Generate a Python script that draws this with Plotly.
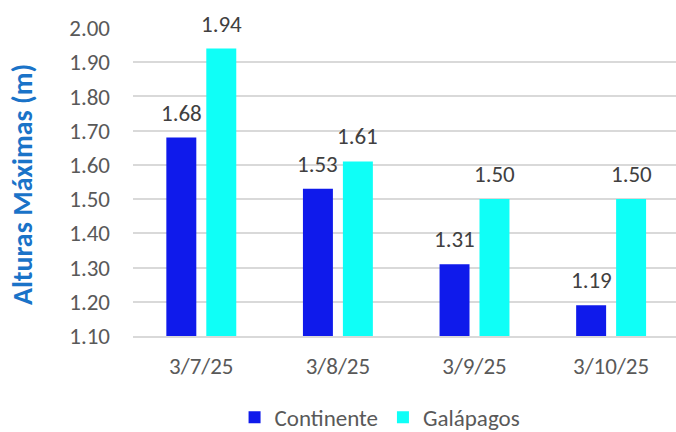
import plotly.graph_objects as go

categories = ["3/7/25", "3/8/25", "3/9/25", "3/10/25"]
continente = [1.68, 1.53, 1.31, 1.19]
galapagos = [1.94, 1.61, 1.50, 1.50]
y_ticks = [1.10, 1.20, 1.30, 1.40, 1.50, 1.60, 1.70, 1.80, 1.90, 2.00]

FONT = "Calibri, Carlito, Lato, sans-serif"
BLUE = "#0F1AEB"
CYAN = "#0FFFF7"
FS = 23

fig = go.Figure()
fig.add_trace(go.Bar(name="Continente", x=categories, y=continente,
                     marker=dict(color=BLUE, line=dict(width=0))))
fig.add_trace(go.Bar(name="Galápagos", x=categories, y=galapagos,
                     marker=dict(color=CYAN, line=dict(width=0))))

# data labels above each bar
for vals, shift in ((continente, -20), (galapagos, 20)):
    for c, v in zip(categories, vals):
        fig.add_annotation(x=c, y=v, xref="x", yref="y", text=f"{v:.2f}",
                           showarrow=False, xshift=shift, yshift=25,
                           yanchor="middle",
                           font=dict(family=FONT, size=FS, color="#404040"))

# y-axis title
fig.add_annotation(text="<b>Alturas Máximas (m)</b>", xref="paper", yref="paper",
                   x=-111 / 543, y=0.49, xanchor="center", yanchor="middle",
                   textangle=-90, showarrow=False,
                   font=dict(family=FONT, size=28, color="#1A73C8"))

fig.update_layout(
    width=676, height=432,
    margin=dict(l=133, r=0, t=28, b=96),
    paper_bgcolor="white", plot_bgcolor="white",
    barmode="group", bargap=0.415, bargroupgap=0.25,
    font=dict(family=FONT, size=FS, color="#595959"),
    showlegend=True,
    legend=dict(orientation="h", x=0.455, xanchor="center",
                yref="container", y=0.034, yanchor="middle",
                font=dict(family=FONT, size=FS, color="#595959"),
                itemwidth=30, traceorder="normal"),
)
fig.update_xaxes(range=[-0.5, 3.475], showgrid=False, showline=True,
                 linecolor="#D9D9D9", linewidth=1.5, ticks="",
                 ticklabelstandoff=9, tickfont=dict(size=FS, color="#595959"))
fig.update_yaxes(range=[1.10, 2.00], tickvals=y_ticks,
                 ticktext=[f"{t:.2f}" for t in y_ticks],
                 showgrid=True, gridcolor="#D9D9D9", gridwidth=1.5,
                 zeroline=False, showline=False, ticks="",
                 ticklabelstandoff=22, tickfont=dict(size=FS, color="#595959"))

fig.write_html("out.html", config={"displayModeBar": False},
               post_script="document.body.style.margin='0';")
